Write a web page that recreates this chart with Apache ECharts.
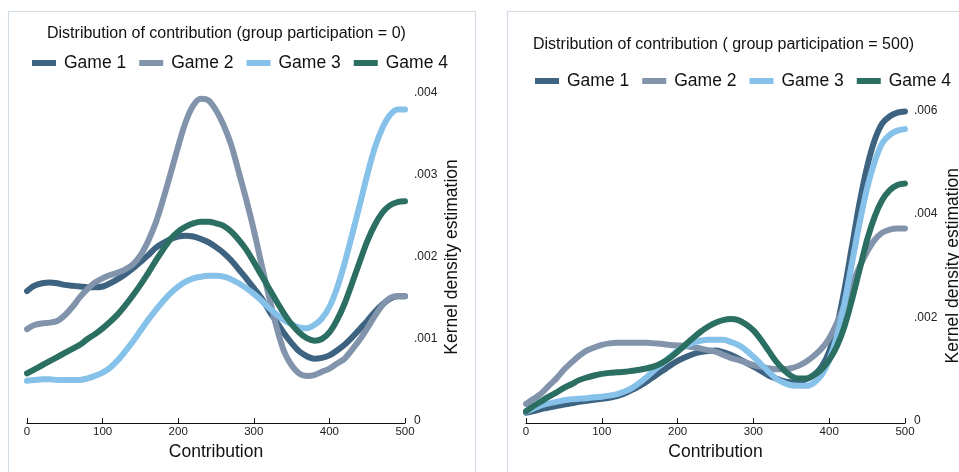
<!DOCTYPE html>
<html>
<head>
<meta charset="utf-8">
<script src="https://cdn.jsdelivr.net/npm/echarts@6/dist/echarts.min.js"></script>
<style>
  html, body { margin: 0; padding: 0; background: #ffffff; }
  #chart { width: 959px; height: 472px; }
</style>
</head>
<body>
<div id="chart"></div>
<script>
// Evaluation points along the contribution axis (0..500 by 10)
var contribution = [];
for (var c = 0; c <= 500; c += 10) contribution.push(c);

// Kernel density estimates in thousandths (x 0.001), group participation = 0
var p0Game1 = [1.585, 1.65, 1.68, 1.69, 1.68, 1.66, 1.65, 1.64, 1.63, 1.63, 1.64, 1.68, 1.73, 1.79, 1.86, 1.94, 2.02, 2.11, 2.17, 2.22, 2.25, 2.26, 2.25, 2.22, 2.18, 2.12, 2.05, 1.96, 1.85, 1.74, 1.62, 1.50, 1.35, 1.21, 1.07, 0.95, 0.85, 0.79, 0.76, 0.77, 0.80, 0.86, 0.93, 1.02, 1.12, 1.22, 1.33, 1.42, 1.49, 1.52, 1.52];
var p0Game2 = [1.12, 1.17, 1.19, 1.20, 1.22, 1.29, 1.39, 1.51, 1.61, 1.69, 1.74, 1.78, 1.81, 1.85, 1.91, 2.02, 2.19, 2.41, 2.70, 3.02, 3.35, 3.65, 3.85, 3.93, 3.91, 3.79, 3.61, 3.37, 3.04, 2.70, 2.33, 1.92, 1.52, 1.15, 0.85, 0.68, 0.58, 0.55, 0.56, 0.60, 0.64, 0.70, 0.76, 0.87, 0.99, 1.13, 1.28, 1.41, 1.50, 1.52, 1.52];
var p0Game3 = [0.49, 0.50, 0.51, 0.51, 0.50, 0.50, 0.50, 0.50, 0.52, 0.55, 0.59, 0.65, 0.74, 0.85, 0.97, 1.10, 1.23, 1.35, 1.46, 1.56, 1.64, 1.70, 1.74, 1.76, 1.77, 1.77, 1.76, 1.73, 1.68, 1.62, 1.55, 1.47, 1.38, 1.30, 1.23, 1.18, 1.14, 1.13, 1.17, 1.25, 1.39, 1.62, 1.92, 2.27, 2.63, 3.00, 3.33, 3.57, 3.73, 3.80, 3.80];
var p0Game4 = [0.58, 0.63, 0.68, 0.73, 0.78, 0.83, 0.88, 0.93, 1.00, 1.06, 1.13, 1.21, 1.30, 1.41, 1.53, 1.66, 1.80, 1.95, 2.09, 2.22, 2.31, 2.37, 2.41, 2.43, 2.43, 2.41, 2.38, 2.31, 2.21, 2.09, 1.94, 1.78, 1.62, 1.46, 1.31, 1.18, 1.08, 1.01, 0.98, 1.00, 1.08, 1.23, 1.43, 1.68, 1.94, 2.19, 2.39, 2.54, 2.63, 2.67, 2.68];

// Kernel density estimates in thousandths (x 0.001), group participation = 500
var p500Game1 = [0.16, 0.19, 0.23, 0.26, 0.29, 0.32, 0.34, 0.37, 0.39, 0.41, 0.43, 0.45, 0.48, 0.53, 0.60, 0.68, 0.77, 0.87, 0.97, 1.07, 1.16, 1.23, 1.29, 1.33, 1.35, 1.36, 1.33, 1.28, 1.21, 1.13, 1.05, 0.97, 0.88, 0.82, 0.77, 0.75, 0.76, 0.81, 0.89, 1.05, 1.34, 1.82, 2.53, 3.37, 4.21, 4.91, 5.43, 5.75, 5.89, 5.96, 5.98];
var p500Game2 = [0.33, 0.43, 0.53, 0.68, 0.82, 0.99, 1.13, 1.26, 1.36, 1.42, 1.47, 1.50, 1.51, 1.51, 1.51, 1.51, 1.51, 1.50, 1.49, 1.47, 1.46, 1.45, 1.43, 1.40, 1.37, 1.34, 1.28, 1.22, 1.18, 1.13, 1.08, 1.05, 1.02, 1.00, 1.00, 1.02, 1.07, 1.15, 1.26, 1.40, 1.60, 1.89, 2.24, 2.63, 2.98, 3.27, 3.50, 3.64, 3.70, 3.72, 3.72];
var p500Game3 = [0.18, 0.24, 0.30, 0.34, 0.37, 0.40, 0.42, 0.43, 0.44, 0.46, 0.47, 0.49, 0.52, 0.57, 0.64, 0.74, 0.86, 0.99, 1.11, 1.24, 1.36, 1.45, 1.51, 1.55, 1.57, 1.57, 1.57, 1.53, 1.47, 1.37, 1.24, 1.10, 0.95, 0.82, 0.74, 0.69, 0.68, 0.68, 0.74, 0.89, 1.18, 1.63, 2.27, 3.05, 3.82, 4.50, 5.01, 5.37, 5.53, 5.61, 5.64];
var p500Game4 = [0.19, 0.29, 0.38, 0.47, 0.55, 0.64, 0.71, 0.79, 0.84, 0.88, 0.91, 0.93, 0.94, 0.95, 0.97, 0.99, 1.02, 1.06, 1.13, 1.22, 1.34, 1.47, 1.60, 1.72, 1.82, 1.90, 1.95, 1.97, 1.95, 1.87, 1.75, 1.57, 1.36, 1.15, 0.99, 0.87, 0.82, 0.82, 0.89, 1.00, 1.18, 1.44, 1.82, 2.34, 2.92, 3.50, 3.95, 4.27, 4.46, 4.56, 4.59];

var gameNames = ['Game 1', 'Game 2', 'Game 3', 'Game 4'];
var leftTitle = 'Distribution of contribution (group participation = 0)';
var rightTitle = 'Distribution of contribution ( group participation = 500)';
var xTitle = 'Contribution';
var yTitle = 'Kernel density estimation';

var colors = ['#3e6381', '#8194ab', '#86c1ea', '#2b6e62'];
var FONT = '"Liberation Sans", Arial, Helvetica, sans-serif';

function pairs(ys) {
  return contribution.map(function (x, i) { return [x, ys[i] * 0.001]; });
}

function densityLabel(v) {
  if (v === 0) return '0';
  return v.toFixed(3).replace(/^0/, '');
}

function xAxisFor(gridIndex) {
  return {
    type: 'value', gridIndex: gridIndex, min: 0, max: 500, interval: 100,
    offset: 2,
    name: xTitle, nameLocation: 'middle', nameGap: 15,
    nameTextStyle: { fontFamily: FONT, fontSize: 17.5, color: '#111' },
    axisLine: { show: true, onZero: false, lineStyle: { color: '#111', width: 1.2 } },
    axisTick: { show: true, inside: true, length: 5, lineStyle: { color: '#111', width: 1 } },
    axisLabel: { fontFamily: FONT, fontSize: 11.5, color: '#222', margin: 3 },
    splitLine: { show: false }
  };
}

function yAxisFor(gridIndex, max, interval, gap) {
  return {
    type: 'value', gridIndex: gridIndex, position: 'right', min: 0, max: max, interval: interval,
    name: yTitle, nameLocation: 'middle', nameGap: gap,
    nameTextStyle: { fontFamily: FONT, fontSize: 17.5, color: '#111' },
    axisLine: { show: false },
    axisTick: { show: false },
    axisLabel: { fontFamily: FONT, fontSize: 12, color: '#222', margin: 9, formatter: densityLabel },
    splitLine: { show: false }
  };
}

function lineSeries(name, ys, idx) {
  return {
    name: name, type: 'line', xAxisIndex: idx, yAxisIndex: idx,
    data: pairs(ys), smooth: 0.3, showSymbol: false, symbol: 'none',
    lineStyle: { width: 6, cap: 'round', join: 'round' },
    emphasis: { disabled: true },
    animation: false
  };
}

function legendFor(left, top) {
  return {
    left: left, top: top, padding: 0, itemGap: 13,
    itemWidth: 24, itemHeight: 6, icon: 'rect',
    data: gameNames,
    textStyle: { fontFamily: FONT, fontSize: 17.5, color: '#111', padding: [0, 0, 0, 3] },
    selectedMode: false
  };
}

var chart = echarts.init(document.getElementById('chart'), null, { renderer: 'canvas' });

chart.setOption({
  backgroundColor: '#ffffff',
  color: colors,
  animation: false,
  graphic: [
    { type: 'rect', shape: { x: 8.5, y: 11.5, width: 467, height: 480 },
      style: { fill: 'none', stroke: '#d3dce5', lineWidth: 1.2 }, silent: true },
    { type: 'rect', shape: { x: 507.5, y: 11.5, width: 480, height: 480 },
      style: { fill: 'none', stroke: '#d3dce5', lineWidth: 1.2 }, silent: true }
  ],
  title: [
    { text: leftTitle, left: 47, top: 26, padding: 0,
      textStyle: { fontFamily: FONT, fontSize: 16, fontWeight: 'normal', color: '#111' } },
    { text: rightTitle, left: 533, top: 37, padding: 0,
      textStyle: { fontFamily: FONT, fontSize: 16, fontWeight: 'normal', color: '#111' } }
  ],
  legend: [legendFor(32, 54), legendFor(535, 72)],
  grid: [
    { left: 27, top: 93, width: 378, height: 328, outerBoundsMode: 'none', containLabel: false },
    { left: 526, top: 110.5, width: 379, height: 310.5, outerBoundsMode: 'none', containLabel: false }
  ],
  xAxis: [xAxisFor(0), xAxisFor(1)],
  yAxis: [yAxisFor(0, 0.004, 0.001, 38), yAxisFor(1, 0.006, 0.002, 39)],
  series: [
    lineSeries(gameNames[0], p0Game1, 0),
    lineSeries(gameNames[1], p0Game2, 0),
    lineSeries(gameNames[2], p0Game3, 0),
    lineSeries(gameNames[3], p0Game4, 0),
    lineSeries(gameNames[0], p500Game1, 1),
    lineSeries(gameNames[1], p500Game2, 1),
    lineSeries(gameNames[2], p500Game3, 1),
    lineSeries(gameNames[3], p500Game4, 1)
  ]
});
</script>
</body>
</html>
